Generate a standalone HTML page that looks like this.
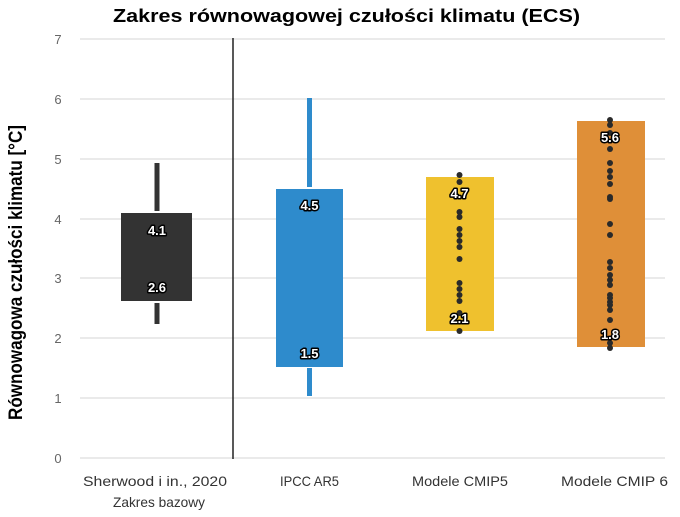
<!DOCTYPE html>
<html><head><meta charset="utf-8"><style>
html,body{margin:0;padding:0;background:#fff}
text{font-family:"Liberation Sans","DejaVu Sans",sans-serif}
.lab{font-weight:bold;font-size:13px;fill:#fff;stroke:#000;stroke-width:3px;paint-order:stroke;stroke-linejoin:round;text-anchor:middle}
</style></head><body>
<svg width="680" height="512" viewBox="0 0 680 512" xmlns="http://www.w3.org/2000/svg">
<text x="113" y="22" textLength="467" lengthAdjust="spacingAndGlyphs" font-weight="bold" font-size="18" fill="#000">Zakres równowagowej czułości klimatu (ECS)</text>
<g stroke="#e3e3e3" stroke-width="1.5">
<line x1="80" x2="665" y1="39" y2="39"/><line x1="80" x2="665" y1="99" y2="99"/>
<line x1="80" x2="665" y1="159" y2="159"/><line x1="80" x2="665" y1="219" y2="219"/>
<line x1="80" x2="665" y1="278" y2="278"/><line x1="80" x2="665" y1="338" y2="338"/>
<line x1="80" x2="665" y1="398" y2="398"/><line x1="80" x2="665" y1="458" y2="458"/>
</g>
<g font-size="13" fill="#666" text-anchor="middle">
<text x="58" y="44">7</text><text x="58" y="104">6</text><text x="58" y="164">5</text>
<text x="58" y="224">4</text><text x="58" y="283">3</text><text x="58" y="343">2</text>
<text x="58" y="403">1</text><text x="58" y="463">0</text>
</g>
<text transform="translate(22,420) rotate(-90)" textLength="295" lengthAdjust="spacingAndGlyphs" font-weight="bold" font-size="19" fill="#000">Równowagowa czułości klimatu [°C]</text>
<line x1="233" x2="233" y1="38" y2="459" stroke="#222" stroke-width="1.5"/>
<rect x="154.5" y="163" width="5" height="48" fill="#333"/>
<rect x="154.5" y="303" width="5" height="21" fill="#333"/>
<rect x="121" y="213" width="71" height="88" fill="#333"/>
<rect x="307" y="98" width="5" height="89" fill="#2e8bcc"/>
<rect x="307" y="368" width="5" height="28" fill="#2e8bcc"/>
<rect x="276" y="189" width="67" height="178" fill="#2e8bcc"/>
<rect x="426" y="177" width="68" height="154" fill="#efc12e"/>
<g fill="#2a2a2a">
<circle cx="459.5" cy="175" r="3"/><circle cx="459.5" cy="182" r="3"/><circle cx="459.5" cy="212" r="3"/><circle cx="459.5" cy="217" r="3"/><circle cx="459.5" cy="229" r="3"/><circle cx="459.5" cy="235" r="3"/><circle cx="459.5" cy="241" r="3"/><circle cx="459.5" cy="247" r="3"/><circle cx="459.5" cy="259" r="3"/><circle cx="459.5" cy="283" r="3"/><circle cx="459.5" cy="289" r="3"/><circle cx="459.5" cy="295" r="3"/><circle cx="459.5" cy="301" r="3"/><circle cx="459.5" cy="313" r="3"/><circle cx="459.5" cy="331" r="3"/>
</g>
<rect x="577" y="121" width="68" height="226" fill="#df8f38"/>
<g fill="#2a2a2a">
<circle cx="610" cy="120" r="3"/><circle cx="610" cy="125" r="3"/><circle cx="610" cy="133" r="3"/><circle cx="610" cy="149" r="3"/><circle cx="610" cy="163" r="3"/><circle cx="610" cy="171" r="3"/><circle cx="610" cy="177" r="3"/><circle cx="610" cy="184" r="3"/><circle cx="610" cy="197" r="3"/><circle cx="610" cy="199" r="3"/><circle cx="610" cy="224" r="3"/><circle cx="610" cy="235" r="3"/><circle cx="610" cy="262" r="3"/><circle cx="610" cy="268" r="3"/><circle cx="610" cy="275" r="3"/><circle cx="610" cy="280" r="3"/><circle cx="610" cy="285" r="3"/><circle cx="610" cy="295" r="3"/><circle cx="610" cy="298" r="3"/><circle cx="610" cy="302" r="3"/><circle cx="610" cy="305" r="3"/><circle cx="610" cy="310" r="3"/><circle cx="610" cy="320" r="3"/><circle cx="610" cy="343" r="3"/><circle cx="610" cy="348" r="3"/>
</g>
<text class="lab" x="157" y="235">4.1</text>
<text class="lab" x="157" y="292">2.6</text>
<text class="lab" x="309.5" y="210">4.5</text>
<text class="lab" x="309.5" y="358">1.5</text>
<text class="lab" x="459.5" y="198">4.7</text>
<text class="lab" x="459.5" y="323">2.1</text>
<text class="lab" x="610" y="142">5.6</text>
<text class="lab" x="610" y="339">1.8</text>
<g font-size="14" fill="#333" lengthAdjust="spacingAndGlyphs">
<text x="83" y="486" textLength="144" lengthAdjust="spacingAndGlyphs">Sherwood i in., 2020</text>
<text x="113" y="507" textLength="92" lengthAdjust="spacingAndGlyphs">Zakres bazowy</text>
<text x="280" y="486" textLength="59" lengthAdjust="spacingAndGlyphs">IPCC AR5</text>
<text x="412" y="486" textLength="96" lengthAdjust="spacingAndGlyphs">Modele CMIP5</text>
<text x="561" y="486" textLength="107" lengthAdjust="spacingAndGlyphs">Modele CMIP 6</text>
</g>
</svg>
</body></html>
